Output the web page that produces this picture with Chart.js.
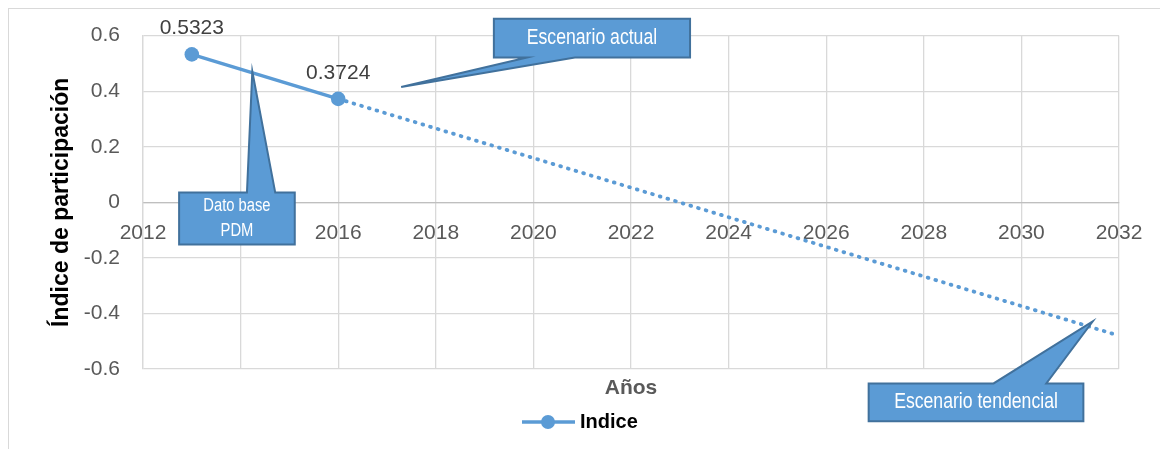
<!DOCTYPE html>
<html>
<head>
<meta charset="utf-8">
<script src="https://cdn.jsdelivr.net/npm/chart.js@4.4.1/dist/chart.umd.min.js"></script>
<style>
  body { margin: 0; background: #fff; }
  #wrap { position: relative; width: 1160px; height: 449px; overflow: hidden; }
  #frame { position: absolute; left: 8px; top: 8px; width: 1300px; height: 600px; border: 1px solid #d9d9d9; }
  canvas { position: absolute; left: 0; top: 0; }
</style>
</head>
<body>
<div id="wrap">
  <div id="frame"></div>
  <canvas id="chart" width="1160" height="449"></canvas>
</div>
<script>
// data
const years = [2013, 2016];
const indice = [0.5323, 0.3724];
const trendYears = [2016, 2032];
const trendValues = [0.3724, -0.48];
const xTicks = [2012, 2014, 2016, 2018, 2020, 2022, 2024, 2026, 2028, 2030, 2032];
const yTicks = [-0.6, -0.4, -0.2, 0, 0.2, 0.4, 0.6];

const blue = "#5b9bd5";
const outline = "#41719c";

// callouts, placed in data units so they follow the scales
const callouts = [
    { lines: ["Dato base", "PDM"], size: 18, edge: "top",
      box: [2012.74, 0.035, 2015.11, -0.152], wedge: [2014.13, 2014.71], tip: [2014.24, 0.471] },
    { lines: ["Escenario actual"], size: 21.5, edge: "bottom",
      box: [2019.19, 0.661, 2023.21, 0.521], wedge: [2019.87, 2020.85], tip: [2017.29, 0.415] },
    { lines: ["Escenario tendencial"], size: 21.5, edge: "top",
      box: [2026.87, -0.652, 2031.27, -0.788], wedge: [2029.43, 2030.51], tip: [2031.46, -0.429] }
];

function drawCallout(ctx, x, y, c) {
    const x0 = x.getPixelForValue(c.box[0]), y0 = y.getPixelForValue(c.box[1]);
    const x1 = x.getPixelForValue(c.box[2]), y1 = y.getPixelForValue(c.box[3]);
    const w0 = x.getPixelForValue(c.wedge[0]), w1 = x.getPixelForValue(c.wedge[1]);
    const tx = x.getPixelForValue(c.tip[0]), ty = y.getPixelForValue(c.tip[1]);

    ctx.beginPath();
    if (c.edge === "top") {
        ctx.moveTo(x0, y0); ctx.lineTo(w0, y0); ctx.lineTo(tx, ty); ctx.lineTo(w1, y0);
        ctx.lineTo(x1, y0); ctx.lineTo(x1, y1); ctx.lineTo(x0, y1);
    } else {
        ctx.moveTo(x0, y0); ctx.lineTo(x1, y0); ctx.lineTo(x1, y1); ctx.lineTo(w1, y1);
        ctx.lineTo(tx, ty); ctx.lineTo(w0, y1); ctx.lineTo(x0, y1);
    }
    ctx.closePath();
    ctx.fillStyle = blue;
    ctx.fill();
    ctx.lineWidth = 2;
    ctx.strokeStyle = outline;
    ctx.lineJoin = "miter";
    ctx.stroke();

    // narrow lettering: squeeze Liberation Sans horizontally
    ctx.fillStyle = "#fff";
    ctx.font = c.size + 'px "Liberation Sans"';
    ctx.textAlign = "center";
    ctx.textBaseline = "middle";
    const cx = (x0 + x1) / 2, cy = (y0 + y1) / 2;
    const lh = 25;
    c.lines.forEach((t, i) => {
        ctx.save();
        ctx.translate(cx, cy + (i - (c.lines.length - 1) / 2) * lh);
        ctx.scale(0.82, 1);
        ctx.fillText(t, 0, 0);
        ctx.restore();
    });
}

const extras = {
    id: "extras",
    afterDraw(chart) {
        const { ctx, chartArea, scales: { x, y } } = chart;
        ctx.save();

        // value labels
        ctx.font = '21px "Liberation Sans"';
        ctx.fillStyle = "#404040";
        ctx.textAlign = "center";
        ctx.textBaseline = "alphabetic";
        chart.getDatasetMeta(0).data.forEach((pt, i) => {
            ctx.fillText(String(indice[i]), pt.x, pt.y - 20);
        });

        // axis titles
        ctx.save();
        ctx.translate(62, (chartArea.top + chartArea.bottom) / 2);
        ctx.rotate(-Math.PI / 2);
        ctx.font = 'bold 23px "Liberation Sans"';
        ctx.fillStyle = "#000";
        ctx.textBaseline = "middle";
        ctx.fillText("Índice de participación", 0, 0);
        ctx.restore();

        ctx.font = 'bold 21px "Liberation Sans"';
        ctx.fillStyle = "#595959";
        ctx.textBaseline = "middle";
        ctx.fillText("Años", (chartArea.left + chartArea.right) / 2, chartArea.bottom + 19);

        // legend
        const ly = chartArea.bottom + 53;
        ctx.strokeStyle = blue;
        ctx.lineWidth = 3.5;
        ctx.beginPath();
        ctx.moveTo(522, ly);
        ctx.lineTo(575, ly);
        ctx.stroke();
        ctx.beginPath();
        ctx.arc(548, ly, 7, 0, Math.PI * 2);
        ctx.fillStyle = blue;
        ctx.fill();
        ctx.font = 'bold 20px "Liberation Sans"';
        ctx.fillStyle = "#000";
        ctx.textAlign = "left";
        ctx.fillText("Indice", 580, ly);

        callouts.forEach(c => drawCallout(ctx, x, y, c));
        ctx.restore();
    }
};

const tickFont = { family: "Liberation Sans", size: 21 };

new Chart(document.getElementById("chart"), {
    type: "scatter",
    data: {
        datasets: [
            {
                label: "Indice",
                data: years.map((yr, i) => ({ x: yr, y: indice[i] })),
                showLine: true,
                borderColor: blue,
                backgroundColor: blue,
                borderWidth: 3.5,
                pointRadius: 7.3,
                pointBorderWidth: 0,
                order: 1
            },
            {
                label: "Tendencia",
                data: trendYears.map((yr, i) => ({ x: yr, y: trendValues[i] })),
                showLine: true,
                borderColor: blue,
                borderWidth: 3.8,
                borderDash: [0.8, 7.2],
                borderCapStyle: "round",
                pointRadius: 0,
                order: 2
            }
        ]
    },
    options: {
        responsive: false,
        animation: false,
        devicePixelRatio: 1,
        layout: { padding: { left: 0, right: 41, top: 34, bottom: 80 } },
        plugins: {
            legend: { display: false },
            tooltip: { enabled: false }
        },
        scales: {
            x: {
                type: "linear",
                position: { y: 0 },
                min: 2012,
                max: 2032,
                afterBuildTicks: s => { s.ticks = xTicks.map(v => ({ value: v })); },
                afterFit: s => { s.paddingLeft = 0; s.paddingRight = 0; },
                ticks: {
                    color: "#595959",
                    font: tickFont,
                    padding: 18,
                    maxRotation: 0,
                    autoSkip: false,
                    callback: v => String(v)
                },
                grid: { color: "#d9d9d9", lineWidth: 1.3, drawTicks: false },
                border: { color: "#bfbfbf", width: 1.3 }
            },
            y: {
                min: -0.6,
                max: 0.6,
                afterBuildTicks: s => { s.ticks = yTicks.map(v => ({ value: v })); },
                afterFit: s => { s.width = 143; },
                ticks: {
                    color: "#595959",
                    font: tickFont,
                    padding: 23,
                    callback: v => (Math.abs(v) < 1e-9 ? "0" : v.toFixed(1))
                },
                grid: { color: "#d9d9d9", lineWidth: 1.3, drawTicks: false },
                border: { color: "#d9d9d9", width: 1.3 }
            }
        }
    },
    plugins: [extras]
});
</script>
</body>
</html>
